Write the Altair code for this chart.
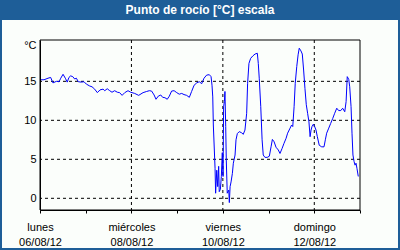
import altair as alt
import pandas as pd

# hours since Monday 06/08/12 00:00
hours = [0, 2.1, 4.2, 5.6, 6.8, 8.6, 10.0, 10.9, 12.1, 13.3, 14.3, 15.2, 16.1, 17.2, 18.2, 19.1,
         20.1, 21.7, 23.1, 24.3, 26.1, 27.3, 28.7, 30.1, 31.5, 33.1, 34.0, 35.3, 36.6, 37.8, 39.2,
         40.6, 41.8, 43.1, 44.5, 46.2, 47.6, 49.7, 51.8, 54.1, 56.0, 57.4, 58.6, 59.9, 60.9, 62.1,
         63.4, 64.4, 65.6, 66.8, 67.9, 69.1, 70.4, 71.8, 73.1, 74.4, 75.6, 77.0, 78.4, 79.6, 80.9,
         82.3, 83.6, 84.9, 86.1, 87.5, 88.9, 89.8, 90.3, 90.7, 91.0, 91.9, 92.2, 92.8, 93.3, 93.8,
         94.1, 94.7, 95.2, 95.7, 96.1, 96.4, 96.8, 97.1, 97.5, 97.8, 98.3, 99.1, 99.4, 99.8, 100.3,
         101.0, 101.5, 102.4, 102.9, 103.6, 104.6, 105.9, 106.7, 107.6, 108.5, 109.0, 109.7, 110.6,
         111.7, 112.9, 114.1, 114.6, 115.1, 115.9, 116.6, 117.2, 118.1, 119.3, 120.4, 121.3, 122.0,
         122.9, 123.9, 125.1, 126.0, 127.1, 128.1, 129.2, 130.0, 131.3, 132.1, 132.7, 133.4, 134.0,
         134.8, 135.5, 136.1, 137.0, 137.7, 138.4, 139.1, 139.8, 140.5, 141.2, 141.8, 142.3, 142.8,
         143.5, 144.2, 144.9, 145.6, 146.6, 147.9, 149.1, 149.8, 150.5, 151.6, 152.6, 153.7, 154.7,
         155.8, 156.8, 157.9, 158.9, 160.0, 160.7, 161.3, 162.1, 162.6, 163.3, 163.8, 164.3, 164.9,
         165.4, 165.9, 166.4, 167.1]
dew = [15.2, 15.2, 15.4, 15.5, 14.8, 15.0, 14.95, 15.4, 15.9, 15.4, 14.9, 15.5, 15.7, 15.6, 15.3, 15.4,
       14.95, 14.9, 14.95, 14.65, 14.4, 14.3, 14.0, 13.55, 13.9, 14.0, 13.8, 14.05, 13.8, 13.6, 13.8,
       13.6, 13.55, 13.2, 13.55, 13.8, 13.6, 13.45, 13.2, 13.55, 13.7, 13.8, 13.75, 13.25, 12.7, 13.1,
       13.25, 12.95, 12.9, 12.7, 13.1, 13.75, 13.8, 13.55, 13.35, 13.45, 13.3, 13.2, 12.95, 13.7, 14.5,
       14.8, 14.95, 14.7, 15.4, 15.8, 15.85, 15.6, 14.5, 13.0, 9.4, 3.85, 0.65, 3.6, 1.5, 4.1,
       0.85, 1.15, 2.8, 5.85, 2.8, 11.75, 12.4, 13.7, 9.2, 4.9, 0.65, 1.05, -0.55, 1.5, 2.1,
       3.2, 4.5, 5.55, 7.5, 8.3, 8.55, 8.4, 8.2, 8.75, 10.9, 14.75, 17.3, 17.95,
       18.25, 18.5, 18.6, 17.3, 15.4, 11.75, 7.5, 5.55, 5.25, 5.25, 5.4, 6.6, 7.55,
       7.25, 6.55, 6.2, 5.75, 6.4, 7.05, 7.7, 8.35, 9.0, 9.4, 9.2, 11.75, 14.75,
       16.9, 18.4, 19.25, 18.9, 18.5, 16.45, 14.1, 12.0, 10.9, 9.8, 7.9, 8.75, 9.2,
       9.5, 9.2, 8.75, 7.9, 6.8, 6.6, 6.6, 7.5, 8.35, 9.0, 9.6, 10.25, 10.9,
       11.55, 11.25, 11.25, 11.55, 11.1, 12.4, 15.6, 15.25, 14.3, 11.75, 8.35, 5.55, 4.7,
       4.25, 4.5, 3.85, 2.8]

label_hours = [0, 48, 96, 144]
day_names = ["lunes", "miércoles", "viernes", "domingo"]
day_dates = ["06/08/12", "08/08/12", "10/08/12", "12/08/12"]
tick_hours = [0, 24, 48, 72, 96, 120, 144, 168]
vgrid_hours = [48, 96, 144]
y_ticks = [0, 5, 10, 15]

BLUE = "#1e5e98"
FONT = "Liberation Sans"

df = pd.DataFrame({"h": hours, "v": dew})

expr_parts = []
for h, n, d in zip(label_hours, day_names, day_dates):
    expr_parts.append(f"datum.value == {h} ? ['{n}', '{d}'] : ")
label_expr = "".join(expr_parts) + "''"

xscale = alt.Scale(domain=[0, 168], nice=False, zero=False)
yscale = alt.Scale(domain=[-1.5, 20.3], nice=False, zero=False)

x_axis = alt.Axis(values=tick_hours, labelExpr=label_expr, title=None, grid=False,
                  tickSize=3, tickColor="black", domainColor="black", zindex=2,
                  labelFont=FONT, labelFontSize=11, labelColor="black",
                  labelPadding=8, labelLineHeight=15, labelOverlap=False,
                  labelFlush=False, labelBound=False)
y_axis = alt.Axis(values=y_ticks, title="°C", titleAngle=0, titleX=-4, titleY=5,
                  titleAlign="right", titleBaseline="middle", titleFont=FONT,
                  titleFontSize=11, titleFontWeight="normal", titleColor="black",
                  grid=False, ticks=False, domainColor="black", zindex=2,
                  labelFont=FONT, labelFontSize=11, labelColor="black",
                  labelPadding=4)

one = pd.DataFrame({"a": [0]})

panel = alt.Chart(one).mark_rect(color="#fbfefb").encode(
    x=alt.value(-38), x2=alt.value(358), y=alt.value(-20), y2=alt.value(208)
)

frame = alt.Chart(one).mark_rect(fillOpacity=0, stroke="black", strokeWidth=1).encode(
    x=alt.value(0), x2=alt.value(320), y=alt.value(0), y2=alt.value(170)
)

hgrid = alt.Chart(pd.DataFrame({"y": y_ticks})).mark_rule(
    color="black", strokeDash=[3, 3], strokeWidth=1
).encode(y=alt.Y("y:Q", scale=yscale, axis=y_axis))

vgrid = alt.Chart(pd.DataFrame({"x": vgrid_hours})).mark_rule(
    color="black", strokeDash=[3, 3], strokeWidth=1
).encode(x=alt.X("x:Q", scale=xscale, axis=x_axis))

line = alt.Chart(df).mark_line(color="#0000ff", strokeWidth=1, interpolate="linear").encode(
    x=alt.X("h:Q", scale=xscale, axis=x_axis),
    y=alt.Y("v:Q", scale=yscale, axis=y_axis),
)

chart = alt.layer(panel, hgrid, vgrid, line, frame).properties(
    width=320, height=170,
    title=alt.TitleParams("Punto de rocío [°C] escala", color="white", fontSize=12,
                          font=FONT, fontWeight="bold", anchor="middle", frame="group",
                          baseline="middle", offset=-2, zindex=2),
    background=BLUE,
    padding={"left": 40, "top": 40, "right": 40, "bottom": 40},
    autosize=alt.AutoSizeParams(type="none"),
).configure_view(stroke=None)

chart.save("out.html", embed_options={"renderer": "svg", "actions": False})
